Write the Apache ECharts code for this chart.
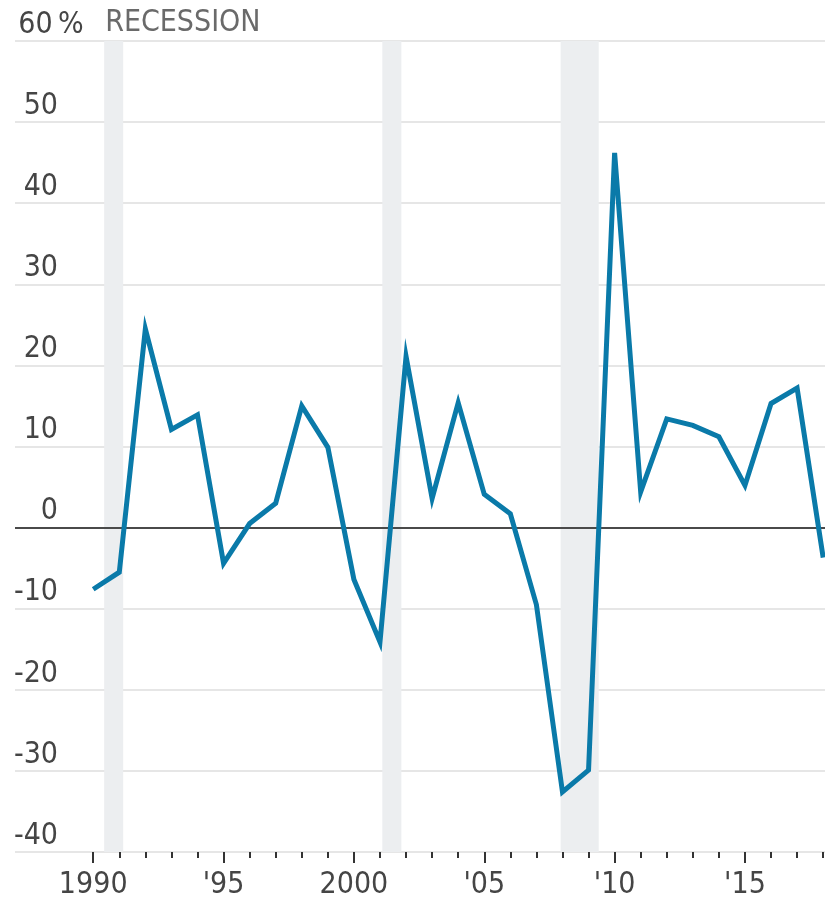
<!DOCTYPE html>
<html>
<head>
<meta charset="utf-8">
<script src="https://cdn.jsdelivr.net/npm/echarts@6/dist/echarts.min.js"></script>
<style>
  html, body { margin: 0; padding: 0; background: #fff; }
  #chart { width: 825px; height: 907px; }
</style>
</head>
<body>
<div id="chart"></div>
<script>
// Annual percent change, 1990–2018
const years = [1990, 1991, 1992, 1993, 1994, 1995, 1996, 1997, 1998, 1999,
               2000, 2001, 2002, 2003, 2004, 2005, 2006, 2007, 2008, 2009,
               2010, 2011, 2012, 2013, 2014, 2015, 2016, 2017, 2018];
const values = [-7.6, -5.5, 24.5, 12.1, 13.9, -4.4, 0.5, 3.0, 15.0, 9.9,
                -6.4, -14.1, 21.1, 3.6, 15.4, 4.1, 1.7, -9.5, -32.6, -29.9,
                46.2, 4.4, 13.4, 12.6, 11.2, 5.2, 15.3, 17.2, -3.7];

// Recession periods (fractional years)
const recessionStart = [1990.42, 2001.09, 2007.93];
const recessionEnd   = [1991.15, 2001.82, 2009.39];

// X-axis tick labels
const labelYears = [1990, 1995, 2000, 2005, 2010, 2015];
const labelText  = ['1990', "'95", '2000', "'05", "'10", "'15"];

const FONT = "'Liberation Sans Narrow', 'DejaVu Sans Condensed', sans-serif";
const FS = 30;
const TXT = '#454545';

const chart = echarts.init(document.getElementById('chart'), null, { renderer: 'canvas' });

const lineData = years.map((y, i) => [y, values[i]]);
const areas = recessionStart.map((s, i) => {
  const a = { xAxis: s };
  if (i === 0) {
    a.label = {
      show: true,
      formatter: 'RECESSION',
      position: 'insideTopLeft',
      distance: 0,
      offset: [1, -33],
      color: '#6a6a6a',
      fontFamily: FONT,
      fontSize: FS
    };
  }
  return [a, { xAxis: recessionEnd[i] }];
});

const xCommon = {
  type: 'value',
  min: 1987,
  max: 2018.07,
  interval: 1,
  splitLine: { show: false },
  axisLine: { show: false, onZero: false }
};

chart.setOption({
  animation: false,
  grid: { left: 15, right: 0, top: 41, bottom: 55, containLabel: false },
  xAxis: [
    Object.assign({}, xCommon, {
      position: 'bottom',
      axisTick: {
        show: true,
        length: 6,
        customValues: years,
        lineStyle: { color: '#333', width: 2 }
      },
      axisLabel: { show: false }
    }),
    Object.assign({}, xCommon, {
      position: 'bottom',
      axisTick: {
        show: true,
        length: 11,
        customValues: labelYears,
        lineStyle: { color: '#333', width: 2 }
      },
      axisLabel: {
        show: true,
        customValues: labelYears,
        margin: 18,
        color: TXT,
        fontFamily: FONT,
        fontSize: FS,
        formatter: v => labelText[labelYears.indexOf(Math.round(v))] || ''
      }
    })
  ],
  yAxis: {
    type: 'value',
    min: -40,
    max: 60,
    interval: 10,
    axisLine: { show: false },
    axisTick: { show: false },
    splitLine: { show: true, lineStyle: { color: '#e6e6e6', width: 2 } },
    axisLabel: {
      inside: true,
      margin: -2,
      align: 'left',
      verticalAlign: 'bottom',
      padding: [0, 0, 1, 0],
      color: TXT,
      fontFamily: FONT,
      fontSize: FS,
      formatter: v => v === 60 ? '{v|60}{p|%}' : '{v|' + v + '}',
      rich: {
        v: { width: 45, align: 'right', fontFamily: FONT, fontSize: FS, color: TXT },
        p: { fontFamily: FONT, fontSize: FS, color: TXT }
      }
    }
  },
  series: [{
    type: 'line',
    xAxisIndex: 0,
    data: lineData,
    symbol: 'none',
    lineStyle: { color: '#0a7aa9', width: 5, join: 'miter' },
    z: 5,
    markArea: {
      silent: true,
      itemStyle: { color: '#eceef0' },
      data: areas
    },
    markLine: {
      silent: true,
      symbol: 'none',
      label: { show: false },
      lineStyle: { color: '#4a4a4a', width: 2, type: 'solid' },
      data: [{ yAxis: 0 }]
    }
  }]
});
</script>
</body>
</html>
